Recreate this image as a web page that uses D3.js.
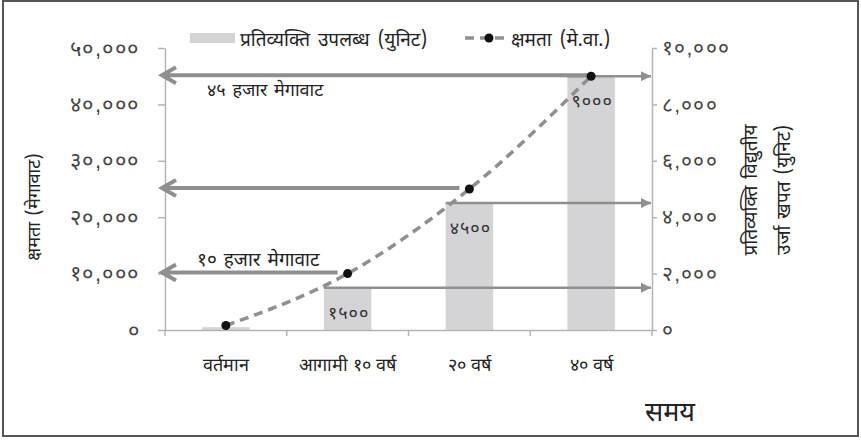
<!DOCTYPE html>
<html>
<head>
<meta charset="utf-8">
<script src="https://cdn.jsdelivr.net/npm/d3@7"></script>
<style>
  body { margin: 0; background: #fff; }
  svg { display: block; font-family: "Noto Sans Devanagari", "Lohit Devanagari", "Noto Sans", sans-serif; }
</style>
</head>
<body>
<svg id="chart" width="861" height="440"></svg>
<script>
  // data
  var categories = ['वर्तमान', 'आगामी १० वर्ष', '२० वर्ष', '४० वर्ष'];
  var perCapita = [100, 1500, 4500, 9000];        // bars, right axis (unit)
  var capacity = [800, 10000, 25000, 45000];      // line, left axis (MW)
  var barLabels = ['', '१५००', '४५००', '९०००'];
  var leftTicks = [0, 10000, 20000, 30000, 40000, 50000];
  var leftTickLabels = ['०', '१०,०००', '२०,०००', '३०,०००', '४०,०००', '५०,०००'];
  var rightTicks = [0, 2000, 4000, 6000, 8000, 10000];
  var rightTickLabels = ['०', '२,०००', '४,०००', '६,०००', '८,०००', '१०,०००'];
  var leftNotes = [null, '१० हजार मेगावाट', null, '४५ हजार मेगावाट'];

  var svg = d3.select('#chart');
  var x0 = 165, x1 = 652, yTop = 48, yBot = 330;
  var axisCol = '#b5b5b5', arrowCol = '#8f8f8f', barCol = '#d4d4d6';

  // frame
  svg.append('rect').attr('x', 3).attr('y', 1).attr('width', 855).attr('height', 435)
    .attr('fill', 'none').attr('stroke', '#555').attr('stroke-width', 2);

  var x = d3.scaleBand().domain(categories).range([x0, x1]).paddingInner(0).paddingOuter(0);
  var yL = d3.scaleLinear().domain([0, 50000]).range([yBot, yTop]);
  var yR = d3.scaleLinear().domain([0, 10000]).range([yBot, yTop]);
  var barW = x.bandwidth() * 0.39;
  var cx = function (i) { return x(categories[i]) + x.bandwidth() / 2; };

  // markers
  var defs = svg.append('defs');
  defs.append('marker').attr('id', 'tri').attr('viewBox', '0 0 10 10')
    .attr('refX', 10).attr('refY', 5).attr('markerWidth', 11).attr('markerHeight', 10)
    .attr('markerUnits', 'userSpaceOnUse').attr('orient', 'auto')
    .append('path').attr('d', 'M0,0L10,5L0,10Z').attr('fill', arrowCol);

  // bars
  svg.append('g').selectAll('rect').data(perCapita).enter().append('rect')
    .attr('x', function (d, i) { return cx(i) - barW / 2; })
    .attr('y', function (d) { return yR(d); })
    .attr('width', barW)
    .attr('height', function (d) { return yBot - yR(d); })
    .attr('fill', barCol);

  // left axis
  var gl = svg.append('g').attr('transform', 'translate(' + x0 + ',0)')
    .call(d3.axisLeft(yL).tickValues(leftTicks).tickSize(7).tickSizeOuter(0)
      .tickFormat(function (d, i) { return leftTickLabels[i]; }));
  gl.selectAll('text').attr('x', -25).attr('font-size', 22).attr('letter-spacing', 1.5)
    .attr('fill', '#444').attr('font-family', 'inherit');

  // right axis
  var gr = svg.append('g').attr('transform', 'translate(' + x1 + ',0)')
    .call(d3.axisRight(yR).tickValues(rightTicks).tickSize(5).tickSizeOuter(0)
      .tickFormat(function (d, i) { return rightTickLabels[i]; }));
  gr.selectAll('text').attr('x', 10).attr('font-size', 21).attr('letter-spacing', 1.2)
    .attr('fill', '#444').attr('font-family', 'inherit');

  // bottom axis
  var gb = svg.append('g').attr('transform', 'translate(0,' + yBot + ')')
    .call(d3.axisBottom(x).tickSize(0).tickSizeOuter(0));
  gb.selectAll('text').attr('y', 28).attr('font-size', 18).attr('fill', '#222')
    .attr('font-family', 'inherit');
  gb.selectAll('.bt').data(d3.range(categories.length + 1)).enter().append('line')
    .attr('class', 'bt')
    .attr('x1', function (d) { return x0 + d * x.bandwidth(); })
    .attr('x2', function (d) { return x0 + d * x.bandwidth(); })
    .attr('y1', 0).attr('y2', 6);
  [gl, gr, gb].forEach(function (g) {
    g.selectAll('path, line').attr('stroke', axisCol).attr('stroke-width', 1.5);
  });

  // right arrows: bar top to right axis
  svg.append('g').selectAll('line').data([1, 2, 3]).enter().append('line')
    .attr('x1', function (i) { return cx(i) - barW / 2; })
    .attr('x2', x1 - 1)
    .attr('y1', function (i) { return yR(perCapita[i]); })
    .attr('y2', function (i) { return yR(perCapita[i]); })
    .attr('stroke', arrowCol).attr('stroke-width', 2.5)
    .attr('marker-end', 'url(#tri)');

  // left arrows: capacity point to left axis, open chevron head
  var la = svg.append('g').selectAll('g').data([1, 2, 3]).enter().append('g');
  la.append('path')
    .attr('d', function (i) {
      var y = yL(capacity[i]) - 1, xs = cx(i) - (i === 3 ? 0 : 10), xt = x0 - 3;
      return 'M' + xs + ',' + y + 'L' + xt + ',' + y +
        'M' + (xt + 14) + ',' + (y - 8) + 'L' + xt + ',' + y + 'L' + (xt + 14) + ',' + (y + 8);
    })
    .attr('fill', 'none').attr('stroke', arrowCol).attr('stroke-width', 4)
    .attr('stroke-linejoin', 'miter');

  // notes
  svg.append('text').attr('x', 197).attr('y', 266).attr('font-size', 19).attr('fill', '#222')
    .attr('word-spacing', 2).text(leftNotes[1]);
  svg.append('text').attr('x', 207).attr('y', 96).attr('font-size', 18).attr('fill', '#222')
    .attr('word-spacing', 2).text(leftNotes[3]);

  // bar value labels
  svg.append('g').selectAll('text').data(barLabels).enter().append('text')
    .attr('x', function (d, i) { return cx(i) - barW / 2 + 4; })
    .attr('y', function (d, i) { return yR(perCapita[i]) + 31; })
    .attr('font-size', 18).attr('letter-spacing', 1).attr('fill', '#333')
    .text(function (d) { return d; });

  // capacity line
  var line = d3.line()
    .x(function (d, i) { return cx(i); })
    .y(function (d) { return yL(d); })
    .curve(d3.curveMonotoneX);
  svg.append('path').datum(capacity).attr('d', line)
    .attr('fill', 'none').attr('stroke', '#8f8f8f').attr('stroke-width', 3.5)
    .attr('stroke-dasharray', '9,6');
  svg.append('g').selectAll('circle').data(capacity).enter().append('circle')
    .attr('cx', function (d, i) { return cx(i); })
    .attr('cy', function (d) { return yL(d); })
    .attr('r', 4.5).attr('fill', '#111');

  // legend
  var lg = svg.append('g');
  lg.append('rect').attr('x', 190).attr('y', 33).attr('width', 45).attr('height', 10).attr('fill', barCol);
  lg.append('text').attr('x', 240).attr('y', 46).attr('font-size', 19).attr('word-spacing', 3)
    .attr('fill', '#222').text('प्रतिव्यक्ति उपलब्ध (युनिट)');
  lg.append('line').attr('x1', 465).attr('x2', 505).attr('y1', 38).attr('y2', 38)
    .attr('stroke', '#8f8f8f').attr('stroke-width', 3.5).attr('stroke-dasharray', '9,6');
  lg.append('circle').attr('cx', 489).attr('cy', 38).attr('r', 4.5).attr('fill', '#111');
  lg.append('text').attr('x', 511).attr('y', 46).attr('font-size', 19).attr('word-spacing', 3)
    .attr('fill', '#222').text('क्षमता (मे.वा.)');

  // axis titles
  svg.append('text').attr('transform', 'translate(40,207) rotate(-90)')
    .attr('text-anchor', 'middle').attr('font-size', 18).attr('word-spacing', 2)
    .attr('fill', '#222').text('क्षमता (मेगावाट)');
  var rt = svg.append('text').attr('transform', 'translate(757,190) rotate(-90)')
    .attr('text-anchor', 'middle').attr('font-size', 19).attr('word-spacing', 2)
    .attr('fill', '#222');
  rt.append('tspan').attr('x', 0).attr('dy', 0).text('प्रतिव्यक्ति विद्युतीय');
  rt.append('tspan').attr('x', 0).attr('dy', 33).text('उर्जा खपत (युनिट)');
  svg.append('text').attr('x', 670).attr('y', 421).attr('text-anchor', 'middle')
    .attr('font-size', 27).attr('fill', '#222').text('समय');
</script>
</body>
</html>
